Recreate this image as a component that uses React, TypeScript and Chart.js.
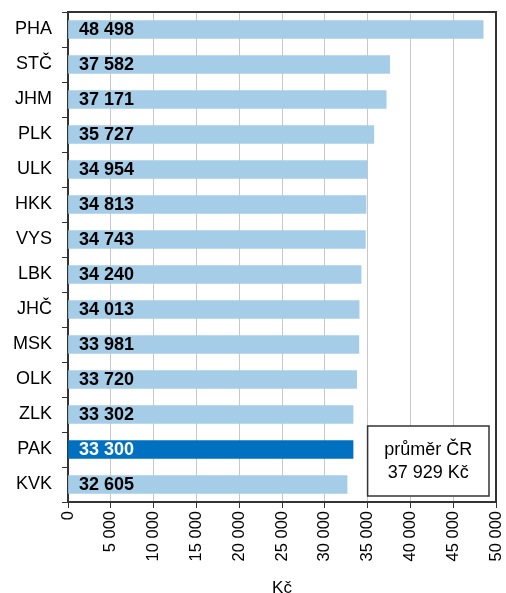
import React, { useEffect, useRef } from "react";
import { Chart, registerables } from "chart.js";

Chart.register(...registerables);

const categories = ["PHA", "STČ", "JHM", "PLK", "ULK", "HKK", "VYS", "LBK", "JHČ", "MSK", "OLK", "ZLK", "PAK", "KVK"];
const values = [48498, 37582, 37171, 35727, 34954, 34813, 34743, 34240, 34013, 33981, 33720, 33302, 33300, 32605];
const highlight = "PAK";
const averageLines = ["průměr ČR", "37 929 Kč"];
const axisTitle = "Kč";

const LIGHT = "#a6cde8";
const DARK = "#0070c0";
const FONT = "Arial, 'Liberation Sans', sans-serif";

const fmt = (v: number) => {
  const s = Math.round(v).toString();
  return s.replace(/\B(?=(\d{3})+(?!\d))/g, " ");
};

const decorPlugin = {
  id: "decor",
  afterDatasetsDraw(chart: any) {
    const { ctx, chartArea } = chart;
    const meta = chart.getDatasetMeta(0);
    ctx.save();
    ctx.font = `bold 18px ${FONT}`;
    ctx.textBaseline = "middle";
    ctx.textAlign = "left";
    meta.data.forEach((bar: any, i: number) => {
      ctx.fillStyle = categories[i] === highlight ? "#ffffff" : "#000000";
      ctx.fillText(fmt(values[i]), chartArea.left + 11, bar.y + 1);
    });
    // frame top/right
    ctx.strokeStyle = "#333333";
    ctx.lineWidth = 2;
    ctx.beginPath();
    ctx.moveTo(chartArea.left, chartArea.top);
    ctx.lineTo(chartArea.right, chartArea.top);
    ctx.lineTo(chartArea.right, chartArea.bottom);
    ctx.stroke();
    // average box
    const bx = chart.scales.x.getPixelForValue(35000);
    const bw = chartArea.right - 7 - bx;
    const by = chartArea.bottom - 76;
    const bh = 70;
    ctx.fillStyle = "#ffffff";
    ctx.fillRect(bx, by, bw, bh);
    ctx.strokeStyle = "#333333";
    ctx.lineWidth = 1.5;
    ctx.strokeRect(bx, by, bw, bh);
    ctx.fillStyle = "#000000";
    ctx.font = `18px ${FONT}`;
    ctx.textAlign = "center";
    ctx.fillText(averageLines[0], bx + bw / 2, by + bh / 2 - 11);
    ctx.fillText(averageLines[1], bx + bw / 2, by + bh / 2 + 12);
    ctx.restore();
  },
};

export default function App() {
  const ref = useRef<HTMLCanvasElement>(null);
  useEffect(() => {
    if (!ref.current) return;
    const chart = new Chart(ref.current, {
      type: "bar",
      data: {
        labels: categories,
        datasets: [
          {
            data: values,
            backgroundColor: categories.map((c) => (c === highlight ? DARK : LIGHT)),
            borderWidth: 0,
            barThickness: 18,
          },
        ],
      },
      options: {
        indexAxis: "y",
        animation: false,
        responsive: false,
        maintainAspectRatio: false,
        layout: { padding: { left: 0, top: 12, right: 10, bottom: 0 } },
        plugins: { legend: { display: false }, tooltip: { enabled: false } },
        scales: {
          x: {
            min: 0,
            max: 50000,
            afterFit: (s: any) => {
              s.height = 91;
              s.paddingLeft = 0;
              s.paddingRight = 0;
            },
            ticks: {
              stepSize: 5000,
              minRotation: 90,
              maxRotation: 90,
              padding: 3,
              color: "#000",
              font: { family: FONT, size: 16.5 },
              callback: (v: any) => fmt(Number(v)),
            },
            grid: { color: "#c8c8c8", tickColor: "#333", tickLength: 6, lineWidth: 1 },
            border: { color: "#333", width: 2 },
            title: {
              display: true,
              text: axisTitle,
              color: "#000",
              font: { family: FONT, size: 17 },
              padding: { top: 0, bottom: -6 },
            },
          },
          y: {
            afterFit: (s: any) => {
              s.width = 68;
              s.paddingTop = 0;
              s.paddingBottom = 0;
            },
            ticks: {
              padding: 10,
              color: "#000",
              font: { family: FONT, size: 18 },
            },
            grid: { offset: true, drawOnChartArea: false, tickColor: "#333", tickLength: 6 },
            border: { color: "#333", width: 2 },
          },
        },
      },
      plugins: [decorPlugin],
    });
    return () => chart.destroy();
  }, []);
  return (
    <div style={{ position: "absolute", left: 0, top: 0, width: 506, height: 593, background: "#fff" }}>
      <canvas ref={ref} width={506} height={593} />
    </div>
  );
}
